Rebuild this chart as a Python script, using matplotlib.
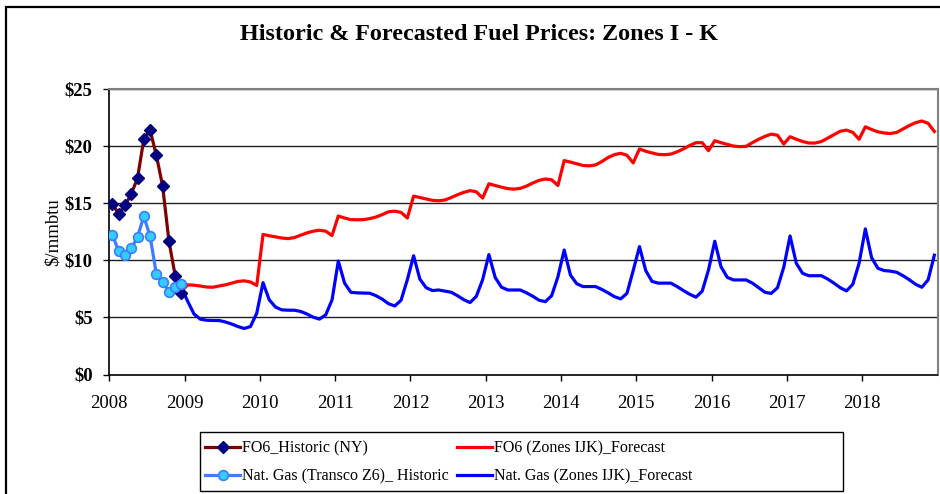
import matplotlib
matplotlib.use("Agg")
import matplotlib.pyplot as plt
import numpy as np
from matplotlib.patches import Rectangle

# ---------------- data ----------------
years = [2008, 2009, 2010, 2011, 2012, 2013, 2014, 2015, 2016, 2017, 2018]

# monthly historic values, Jan-Dec 2008
fo6_hist = [14.96, 14.05, 14.8, 15.8, 17.2, 20.6, 21.4, 19.2, 16.5, 11.7, 8.65, 7.17]
gas_hist = [12.22, 10.8, 10.43, 11.04, 12.05, 13.85, 12.11, 8.8, 8.13, 7.26, 7.69, 7.9]

# monthly forecast values, Dec 2008 .. Dec 2018
fo6_fc = [7.3,
          7.85, 7.82, 7.75, 7.66, 7.64, 7.75, 7.85, 8.0, 8.15, 8.2, 8.1, 7.8,
          12.26, 12.15, 12.05, 11.95, 11.9, 11.99, 12.2, 12.4, 12.55, 12.63, 12.55, 12.17,
          13.88, 13.7, 13.56, 13.55, 13.56, 13.65, 13.79, 14.0, 14.25, 14.3, 14.2, 13.7,
          15.62, 15.5, 15.37, 15.25, 15.21, 15.28, 15.5, 15.74, 15.95, 16.1, 16.0, 15.45,
          16.7, 16.55, 16.4, 16.28, 16.23, 16.3, 16.5, 16.77, 17.0, 17.12, 17.05, 16.55,
          18.73, 18.6, 18.45, 18.3, 18.27, 18.35, 18.65, 19.0, 19.25, 19.37, 19.2, 18.53,
          19.75, 19.55, 19.4, 19.27, 19.25, 19.3, 19.5, 19.75, 20.05, 20.3, 20.3, 19.6,
          20.47, 20.3, 20.15, 20.0, 19.95, 19.98, 20.3, 20.6, 20.85, 21.05, 20.95, 20.18,
          20.82, 20.6, 20.4, 20.27, 20.27, 20.4, 20.7, 21.0, 21.3, 21.4, 21.2, 20.6,
          21.69, 21.45, 21.25, 21.15, 21.1, 21.2, 21.5, 21.8, 22.05, 22.2, 22.0, 21.28]

gas_fc = [7.6,
          6.4, 5.3, 4.85, 4.75, 4.73, 4.73, 4.6, 4.42, 4.2, 4.03, 4.2, 5.37,
          8.04, 6.53, 5.9, 5.66, 5.63, 5.63, 5.52, 5.3, 5.02, 4.85, 5.23, 6.53,
          9.93, 8.0, 7.2, 7.15, 7.13, 7.12, 6.9, 6.6, 6.2, 6.0, 6.5, 8.3,
          10.4, 8.35, 7.6, 7.35, 7.4, 7.3, 7.2, 6.9, 6.55, 6.3, 6.85, 8.3,
          10.5, 8.5, 7.65, 7.4, 7.4, 7.4, 7.15, 6.85, 6.5, 6.38, 6.9, 8.55,
          10.9, 8.7, 7.95, 7.7, 7.7, 7.7, 7.45, 7.15, 6.82, 6.62, 7.1, 9.1,
          11.2, 9.1, 8.15, 8.0, 8.0, 8.0, 7.7, 7.35, 7.03, 6.77, 7.3, 9.15,
          11.67, 9.43, 8.5, 8.28, 8.28, 8.28, 8.0, 7.6, 7.2, 7.1, 7.6, 9.4,
          12.13, 9.73, 8.86, 8.65, 8.65, 8.65, 8.36, 8.0, 7.6, 7.32, 7.9, 9.73,
          12.75, 10.22, 9.3, 9.1, 9.05, 8.95, 8.65, 8.3, 7.9, 7.64, 8.28, 10.45]

y_ticks = [0, 5, 10, 15, 20, 25]
y_tick_labels = ["$0", "$5", "$10", "$15", "$20", "$25"]

title = "Historic & Forecasted Fuel Prices: Zones I - K"
y_label = "$/mmbtu"
labels = ["FO6_Historic (NY)", "Nat. Gas (Transco Z6)_ Historic",
          "FO6 (Zones IJK)_Forecast", "Nat. Gas (Zones IJK)_Forecast"]

# month positions (mid-month, fractional year)
hist_x = 2008 + (np.arange(len(fo6_hist)) + 0.5) / 12
fc_x = 2008 + (np.arange(len(fo6_fc)) + 11 + 0.5) / 12

# ---------------- plot ----------------
plt.rcParams['font.family'] = ['Liberation Serif', 'DejaVu Serif']
W, H = 940, 494
fig = plt.figure(figsize=(W / 100, H / 100), dpi=100)
ax = fig.add_axes([109.3 / W, 1 - 374.5 / H, (937.5 - 109.3) / W, (374.5 - 89) / H])

# outer chart frame (left & top visible)
fig.add_artist(Rectangle((5.5 / W, -0.1), 1.2, (H - 6.5) / H + 0.1,
                         transform=fig.transFigure, fill=False,
                         edgecolor='black', linewidth=1.6))

for yv in y_ticks[1:]:
    ax.axhline(yv, color='#202020', linewidth=1.0, zorder=1)

l3, = ax.plot(fc_x, fo6_fc, color='#FF0000', linewidth=2.3, zorder=3)
l4, = ax.plot(fc_x, gas_fc, color='#0000FF', linewidth=2.3, zorder=3)
l1, = ax.plot(hist_x, fo6_hist, color='#800000', linewidth=2.3, marker='D',
              markersize=6.5, markerfacecolor='#000080', markeredgecolor='#000080', zorder=4)
l2, = ax.plot(hist_x, gas_hist, color='#3D7BFF', linewidth=2.3, marker='o',
              markersize=7, markerfacecolor='#33CCFF', markeredgecolor='#3D7BFF',
              markeredgewidth=1.2, zorder=4)

ax.set_xlim(2008, 2019)
ax.set_ylim(0, 25)
ax.set_xticks(years)
ax.set_xticklabels([str(y) for y in years], fontsize=13.5)
ax.set_yticks(y_ticks)
ax.set_yticklabels(y_tick_labels, fontsize=13.5, fontweight='bold')
ax.tick_params(axis='both', direction='out', length=4.5, width=1, color='black')
ax.tick_params(axis='x', pad=10.5)
ax.tick_params(axis='y', pad=7.5)

for s in ['left', 'bottom']:
    ax.spines[s].set_color('black')
    ax.spines[s].set_linewidth(1.2)
for s in ['top', 'right']:
    ax.spines[s].set_color('#808080')
    ax.spines[s].set_linewidth(1.5)

ax.set_ylabel(y_label, fontsize=13.5)
ax.yaxis.set_label_coords(-0.057, 0.5)

fig.text((240 + 718) / 2 / W, 1 - 34 / H, title, ha='center', va='center',
         fontsize=17.4, fontweight='bold')

# legend box (drawn separately, wider than its content as in the reference)
fig.add_artist(Rectangle((199.5 / W, 1 - 490.7 / H), (842.7 - 199.5) / W, (490.7 - 431.7) / H,
                         transform=fig.transFigure, fill=False,
                         edgecolor='black', linewidth=1.0))
leg = fig.legend([l1, l2, l3, l4], labels, ncol=2, loc='center left',
                 bbox_to_anchor=(205 / W, 1 - 462.5 / H),
                 frameon=False, fontsize=11.5,
                 handlelength=2.2, handletextpad=0.12, columnspacing=0.5,
                 labelspacing=0.8, borderpad=0, borderaxespad=0)

fig.savefig("out.png", dpi=100)
